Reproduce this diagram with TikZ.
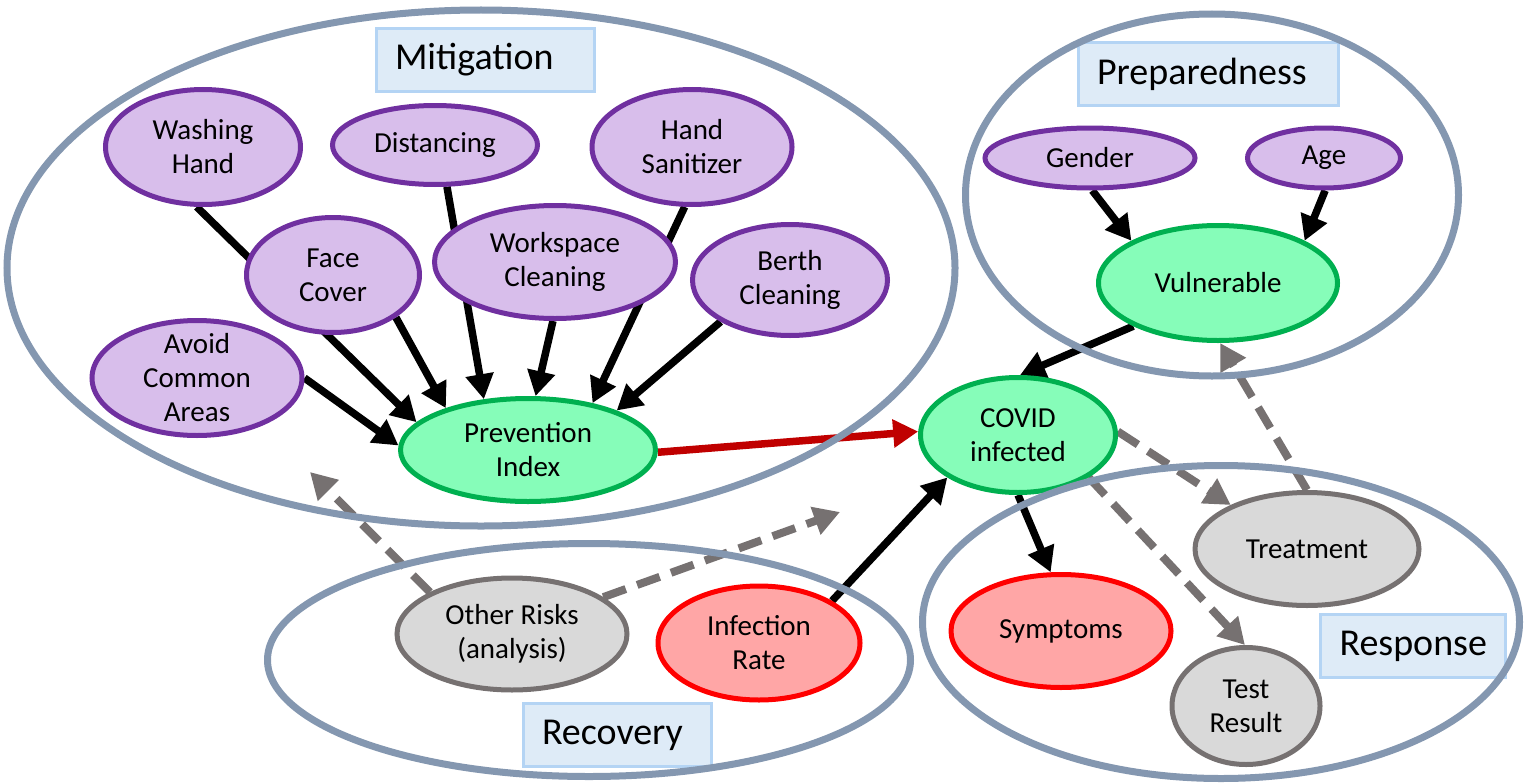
\documentclass[tikz,border=0pt]{standalone}
\usepackage{fontspec}
\setmainfont{Carlito}
\usetikzlibrary{arrows.meta, shapes.geometric, backgrounds}
\definecolor{lavender}{HTML}{D8BEEB}
\definecolor{plum}{HTML}{7030A0}
\definecolor{mint}{HTML}{86FDB9}
\definecolor{leaf}{HTML}{00B050}
\definecolor{salmon}{HTML}{FFA6A6}
\definecolor{ash}{HTML}{D9D9D9}
\definecolor{slate}{HTML}{767171}
\definecolor{steelgrey}{HTML}{8497B0}
\definecolor{paleblue}{HTML}{DEEBF7}
\definecolor{glowblue}{HTML}{B4D4F4}
\definecolor{darkred}{HTML}{C00000}
\newcommand\factorfont{\fontsize{29}{34}\selectfont}
\newcommand\regionfont{\fontsize{38}{44}\selectfont}
\tikzset{
  factor/.style={ellipse, draw=plum, line width=5pt, fill=lavender, inner sep=0pt,
    align=center, font=\factorfont},
  factorG/.style={factor, draw=leaf, fill=mint},
  factorR/.style={factor, draw=red, fill=salmon},
  factorGrey/.style={factor, draw=slate, fill=ash},
  region/.style={ellipse, draw=steelgrey, line width=7pt, inner sep=0pt},
  regionlabel/.style={rectangle, fill=paleblue, draw=glowblue, line width=3pt,
    inner xsep=19pt, minimum height=63pt, align=left, font=\regionfont},
  arrow/.style={-{Triangle[length=25pt, width=27pt]}, line width=7.5pt, black},
  arrowr/.style={arrow, darkred},
  arrowd/.style={-{Triangle[length=26pt, width=28pt]}, line width=8pt, slate,
    dash pattern=on 24pt off 12pt},
}

\begin{document}
\begin{tikzpicture}[x=1pt, y=-1pt]
\useasboundingbox (0,0) rectangle (1528,784);

% mitigation factors
\node[factor, minimum width=195pt, minimum height=115pt] (wash) at (203,147) {Washing\\Hand};
\node[factor, minimum width=205pt, minimum height=79pt] (dist) at (435,145) {Distancing};
\node[factor, minimum width=200pt, minimum height=115pt] (sanit) at (692,147) {Hand\\Sanitizer};
\node[factor, minimum width=173pt, minimum height=115pt] (face) at (333,275) {Face\\Cover};
\node[factor, minimum width=241pt, minimum height=113pt] (work) at (555,262) {Workspace\\Cleaning};
\node[factor, minimum width=195pt, minimum height=111pt] (berth) at (790,280) {Berth\\Cleaning};
\node[factor, minimum width=210pt, minimum height=115pt, inner ysep=-9pt] (avoid) at (197,378) {Avoid\\Common\\Areas};
\node[factorG, minimum width=255pt, minimum height=103pt] (prev) at (528,450) {Prevention\\Index};

% preparedness
\node[factor, minimum width=210pt, minimum height=60pt] (gender) at (1090,158) {Gender};
\node[factor, minimum width=153pt, minimum height=60pt] (age) at (1324,158) {Age};
\node[factorG, minimum width=239pt, minimum height=115pt] (vuln) at (1218,283) {Vulnerable};
\node[factorG, minimum width=195pt, minimum height=115pt] (covid) at (1018,435) {COVID\\infected};

% response and recovery
\node[factorGrey, minimum width=224pt, minimum height=113pt] (treat) at (1307,549) {Treatment};
\node[factorR, minimum width=220pt, minimum height=113pt] (sympt) at (1061,631) {Symptoms};
\node[factorGrey, minimum width=148pt, minimum height=117pt] (test) at (1246,706) {Test\\Result};
\node[factorGrey, minimum width=230pt, minimum height=112pt] (risks) at (512,634) {Other Risks\\(analysis)};
\node[factorR, minimum width=202pt, minimum height=114pt] (rate) at (759,643) {Infection\\Rate};

\coordinate (riskA) at (310,472);
\coordinate (riskB) at (840,512);

\begin{scope}[on background layer]
\draw[arrow] (wash.-96) -- (prev.166);
\draw[arrow] (face.-34) -- (prev.153);
\draw[arrow] (avoid.0) -- (prev.178);
\draw[arrow] (dist.-74) -- (prev.131);
\draw[arrow] (work.-92) -- (prev.82);
\draw[arrow] (sanit.-97) -- (prev.36);
\draw[arrow] (berth.-149) -- (prev.24);
\draw[arrowr] (prev.-1) -- (covid.178);
\draw[arrow] (gender.-86) -- (vuln.154);
\draw[arrow] (age.-88) -- (vuln.26);
\draw[arrow] (vuln.-153) -- (covid.88);
\draw[arrow] (rate.30) -- (covid.211);
\draw[arrow] (covid.-90) -- (sympt.100);
\draw[arrowd] (covid.2) -- (treat.150);
\draw[arrowd] (covid.-31) -- (test.91);
\draw[arrowd] (treat.90) -- (vuln.-88);
\draw[arrowd] (risks.153) -- (riskA);
\draw[arrowd] (risks.22) -- (riskB);
\end{scope}

% region labels
\node[regionlabel, text width=180pt] (mitlbl) at (485,60) {Mitigation};
\node[regionlabel, text width=222pt] (prplbl) at (1208,74) {Preparedness};
\node[regionlabel, text width=147pt] (reslbl) at (1413,646) {Response};
\node[regionlabel, text width=150pt] (reclbl) at (617,735) {Recovery};

% regions
\node[region, minimum width=948pt, minimum height=516pt] (mitig) at (481,268) {};
\node[region, minimum width=493pt, minimum height=362pt] (prepa) at (1212,195) {};
\node[region, minimum width=597pt, minimum height=313pt] (respo) at (1221,622) {};
\node[region, minimum width=643pt, minimum height=233pt] (recov) at (589,660) {};
\end{tikzpicture}
\end{document}
